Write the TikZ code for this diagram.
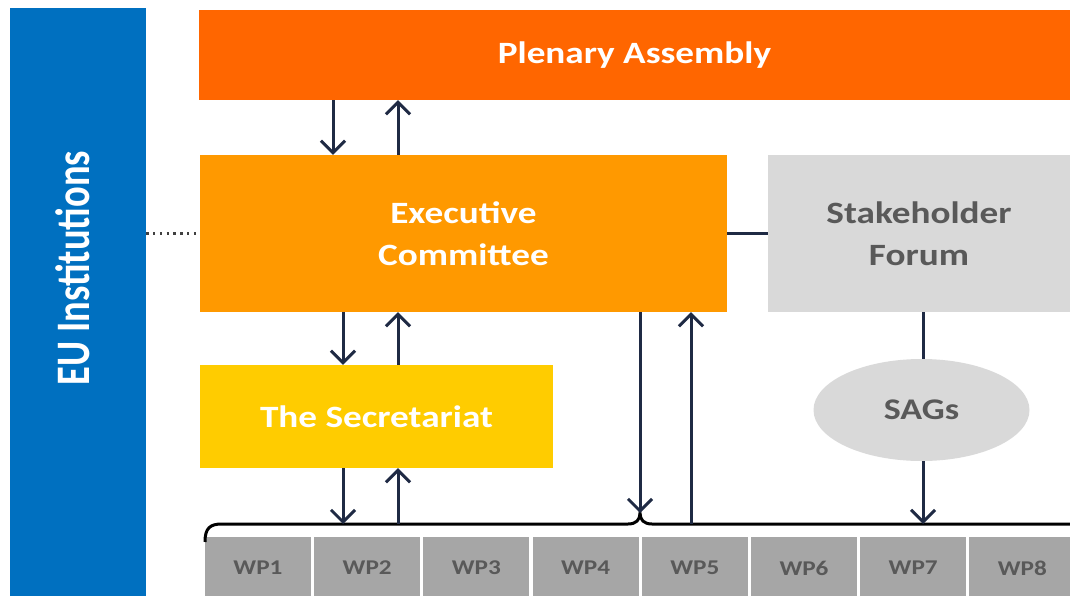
\documentclass[tikz,border=0pt]{standalone}
\usepackage{fontspec}
\usepackage{graphicx}
\setmainfont{Carlito}
\usetikzlibrary{arrows.meta,shapes.geometric}

\definecolor{plenary}{HTML}{FF6600}
\definecolor{execorange}{HTML}{FF9900}
\definecolor{secyellow}{HTML}{FFCC00}
\definecolor{lightgrey}{HTML}{D9D9D9}
\definecolor{wpgrey}{HTML}{A6A6A6}
\definecolor{textgrey}{HTML}{595959}
\definecolor{dotgrey}{HTML}{404040}
\definecolor{eublue}{HTML}{0070C0}
\definecolor{navy}{HTML}{1F2A44}

% labels are set slightly wide
\newcommand{\wide}[1]{\scalebox{1.2}[1]{#1}}
\newcommand{\tall}[1]{\scalebox{1}[1.25]{#1}}

\tikzset{
  block/.style={rectangle, inner sep=0pt, align=center,
    font=\bfseries\fontsize{31}{42}\selectfont},
  whiteblock/.style={block, text=white},
  greyblock/.style={block, fill=lightgrey, text=textgrey},
  wpbox/.style={rectangle, inner sep=0pt, fill=wpgrey, text=textgrey,
    minimum width=106pt, minimum height=62pt,
    font=\bfseries\fontsize{21}{26}\selectfont},
  flow/.style={navy, line width=3pt, -{Straight Barb[length=12pt,width=24pt]}},
  link/.style={navy, line width=3pt},
  bracket/.style={black, line width=3pt},
}

\begin{document}
\begin{tikzpicture}[x=1pt, y=-1pt]
  \useasboundingbox (0,0) rectangle (1070,596);
  \clip (0,0) rectangle (1070,596);

  % side bar
  \node[block, fill=eublue, minimum width=136pt, minimum height=590pt] (eu) at (78,303) {};
  \node[whiteblock, rotate=90, font=\bfseries\fontsize{38.5}{44}\selectfont] (eulabel) at (73,268) {\tall{EU Institutions}};

  % governance bodies
  \node[whiteblock, fill=plenary, minimum width=871pt, minimum height=90pt] (plen) at (634.5,55) {\wide{Plenary Assembly}};
  \node[whiteblock, fill=execorange, minimum width=527pt, minimum height=157pt] (exec) at (463.5,233.5) {\wide{Executive}\\\wide{Committee}};
  \node[greyblock, minimum width=302pt, minimum height=157pt] (sf) at (919,233.5) {\wide{Stakeholder}\\\wide{Forum}};
  \node[whiteblock, fill=secyellow, minimum width=353pt, minimum height=103pt] (sec) at (376.5,416.5) {\wide{The Secretariat}};
  \node[greyblock, ellipse, minimum width=216pt, minimum height=102pt,
        font=\bfseries\fontsize{30}{36}\selectfont] (sags) at (921.5,410) {\wide{SAGs}};

  % work packages
  \foreach \i in {1,...,8} {
    \node[wpbox] (wp\i) at ({205+(\i-1)*109.2+53},568) {\wide{WP\i}};
  }

  % bracket over the work packages
  \draw[bracket] (205,542) .. controls (205,528) and (210,524) .. (222,524)
    -- (628,524) .. controls (636,524) and (640,520) .. (640,513)
    .. controls (640,520) and (644,524) .. (652,524) -- (1080,524);
  \coordinate (bsecdown) at (343,524);
  \coordinate (bsecup) at (398,524);
  \coordinate (bcusp) at (640,513);
  \coordinate (bexecup) at (691,524);
  \coordinate (bsags) at (923,524);

  % connectors
  \draw[flow] (333,0 |- plen.south) -- (333,0 |- exec.north);
  \draw[flow] (398,0 |- exec.north) -- (398,0 |- plen.south);
  \draw[flow] (343,0 |- exec.south) -- (343,0 |- sec.north);
  \draw[flow] (398,0 |- sec.north) -- (398,0 |- exec.south);
  \draw[flow] (343,0 |- sec.south) -- (bsecdown);
  \draw[flow] (bsecup) -- (398,0 |- sec.south);
  \draw[flow] (bcusp |- exec.south) -- (bcusp);
  \draw[flow] (bexecup) -- (bexecup |- exec.south);
  \draw[link] (exec.east) -- (sf.west);
  \draw[link] (bsags |- sf.south) -- (bsags |- sags.north);
  \draw[flow] (bsags |- sags.south) -- (bsags);
  \draw[dotgrey, line width=2.4pt, dash pattern=on 2.4pt off 4.4pt] (eu.east |- exec.west) -- (exec.west);
\end{tikzpicture}
\end{document}
